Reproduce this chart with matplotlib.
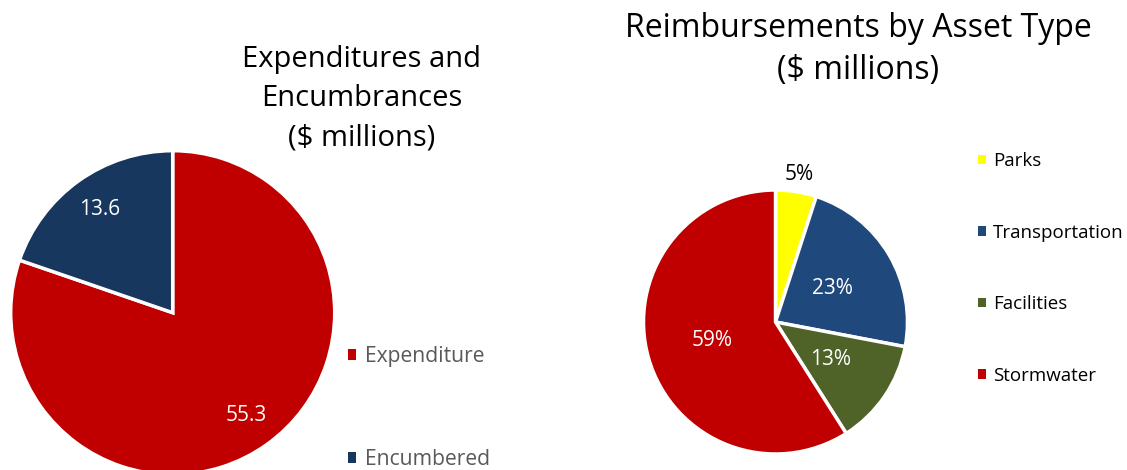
import numpy as np
import matplotlib.pyplot as plt

plt.rcParams["font.family"] = ["Open Sans", "DejaVu Sans"]

# === data ===
exp_labels = ["Expenditure", "Encumbered"]
exp_values = [55.3, 13.6]
exp_colors = ["#C00000", "#17375E"]

asset_labels = ["Parks", "Transportation", "Facilities", "Stormwater"]
asset_values = [5, 23, 13, 59]
asset_colors = ["#FFFF00", "#1F497D", "#4F6228", "#C00000"]

W, H = 1127, 470
fig = plt.figure(figsize=(W / 100, H / 100), dpi=100)


def px_axes(cx, cy, r):
    # axes square around a pie centre given in pixels (from top-left)
    return fig.add_axes([(cx - r) / W, (H - cy - r) / H, 2 * r / W, 2 * r / H])


# ---- left pie: expenditures and encumbrances ----
ax1 = px_axes(172.7, 312.7, 162)
w1, t1, a1 = ax1.pie(exp_values, colors=exp_colors, startangle=90, counterclock=False,
                     autopct=lambda p: f"{p * sum(exp_values) / 100:.1f}",
                     pctdistance=0.78, radius=1,
                     wedgeprops=dict(edgecolor="white", linewidth=2.5),
                     textprops=dict(color="white", fontsize=15))
ax1.set_xlim(-1, 1)
ax1.set_ylim(-1, 1)
ax1.set_aspect("equal")

fig.text(362 / W, 1 - 99 / H, "Expenditures and\nEncumbrances\n($ millions)",
         ha="center", va="center", fontsize=21, color="#000000", linespacing=1.46)

leg1 = fig.legend(w1, exp_labels, loc="center left", bbox_to_anchor=(347.5 / W, 1 - 408 / H),
                  frameon=False, fontsize=15.2, labelcolor="#595959",
                  handlelength=0.4, handleheight=0.4, handletextpad=0.42,
                  labelspacing=3.9, borderpad=0, borderaxespad=0)
for h in leg1.legend_handles:
    h.set_edgecolor("none")

# ---- right pie: reimbursements by asset type ----
ax2 = px_axes(775.5, 322, 132)
w2, t2, a2 = ax2.pie(asset_values, colors=asset_colors, startangle=90, counterclock=False,
                     autopct="%.0f%%", pctdistance=0.5, radius=1,
                     wedgeprops=dict(edgecolor="white", linewidth=2.5),
                     textprops=dict(color="white", fontsize=15))
# small Parks slice: label outside, black
th = np.deg2rad((w2[0].theta1 + w2[0].theta2) / 2)
a2[0].set_position((1.15 * np.cos(th), 1.13 * np.sin(th)))
a2[0].set_color("black")
ax2.set_xlim(-1, 1)
ax2.set_ylim(-1, 1)
ax2.set_aspect("equal")

fig.text(858 / W, 1 - 49.5 / H, "Reimbursements by Asset Type\n($ millions)",
         ha="center", va="center", fontsize=23, color="#000000", linespacing=1.33)

leg2 = fig.legend(w2, asset_labels, loc="center left", bbox_to_anchor=(978 / W, 1 - 268.5 / H),
                  frameon=False, fontsize=13.5, labelcolor="#000000",
                  handlelength=0.42, handleheight=0.42, handletextpad=0.38,
                  labelspacing=2.86, borderpad=0, borderaxespad=0)
for h in leg2.legend_handles:
    h.set_edgecolor("none")

fig.savefig("out.png", dpi=100)
